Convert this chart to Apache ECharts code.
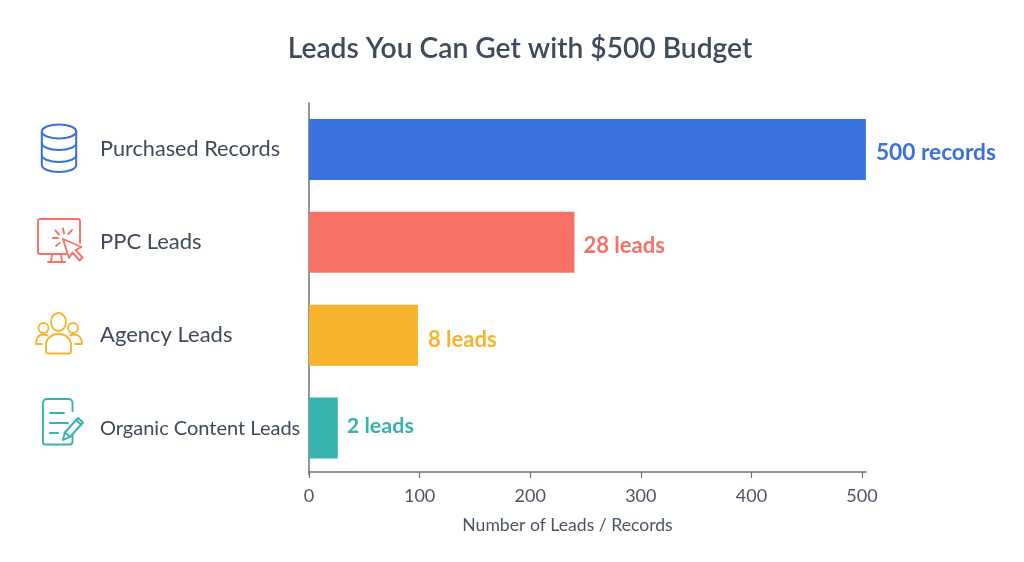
<!DOCTYPE html>
<html><head><meta charset="utf-8">
<style>html,body{margin:0;padding:0;background:#fff}#c{width:1024px;height:562px}</style>
<script src="https://cdn.jsdelivr.net/npm/echarts@6/dist/echarts.min.js"></script>
</head><body><div id="c"></div>
<script>
const categories = ["Purchased Records","PPC Leads","Agency Leads","Organic Content Leads"];
const barValues = [503.5,240,98.5,26];
const valueLabels = ["500 records","28 leads","8 leads","2 leads"];
const colors = ["#3b71dd","#f97066","#f7b32b","#38b2ac"];
const xTicks = [0,100,200,300,400,500];
const FONT = "Lato";
const categorySizes = [21.7,22,22,20];
const valueSizes = [22.7,22,22,21.5];
const categoryPads = [[4,0,0,0],[4,0,0,0],[4,0,0,0],[0,0,4,0]];
const valueNudges = [[1,3],[0,4],[1,5],[0,-2]];

function svg(w,h,color,sw,body){
  const s = `<svg xmlns="http://www.w3.org/2000/svg" width="${w}" height="${h}" viewBox="0 0 ${w} ${h}"><g fill="none" stroke="${color}" stroke-width="${sw}" stroke-linecap="round" stroke-linejoin="round">${body}</g></svg>`;
  return "data:image/svg+xml;charset=utf-8," + encodeURIComponent(s);
}
const icons = [
 {x:40,y:122,w:40,h:52,c:colors[0],sw:2,b:`<ellipse cx="19" cy="9.5" rx="17.2" ry="7"/><path d="M1.8 9.5V43c0 3.9 7.7 7 17.2 7s17.2-3.1 17.2-7V9.5"/><path d="M1.8 21c0 3.9 7.7 7 17.2 7s17.2-3.1 17.2-7"/><path d="M1.8 33c0 3.9 7.7 7 17.2 7s17.2-3.1 17.2-7"/>`},
 {x:36,y:217,w:50,h:48,c:colors[1],sw:1.9,b:`<path d="M44 26V4a2 2 0 0 0-2-2H4a2 2 0 0 0-2 2v31a2 2 0 0 0 2 2h26"/><path d="M16 37l-1 8M25 37l1 8M12 45h17"/><path d="M27 22l6 19 3.500-5.500 7 8 3-3-7-7.500 6-3z"/><path d="M27 11.500l1 5M19.500 13.500l3.500 4M36 13l-3.500 4M17 21h5M20 29l3.500-3"/>`},
 {x:33,y:311,w:52,h:44,c:colors[2],sw:1.8,b:`<ellipse cx="25.500" cy="11" rx="7.500" ry="9"/><circle cx="10.500" cy="17" r="5"/><circle cx="40" cy="17" r="5"/><path d="M13 41V34c0-6 5-11 12.500-11S38 28 38 34v7a1.500 1.500 0 0 1-1.500 1.500h-22A1.500 1.500 0 0 1 13 41z"/><path d="M9 33H3c0-6 2.500-9.500 7.500-9.500 1.500 0 2.700.3 3.700 1"/><path d="M42 33h7c0-6-3-9.500-8-9.500-1.500 0-2.700.3-3.700 1"/>`},
 {x:41,y:397,w:44,h:50,c:colors[3],sw:1.9,b:`<path d="M31.500 14V6a4 4 0 0 0-4-4H6a4 4 0 0 0-4 4v39a2.500 2.500 0 0 0 2.500 2.500h24a3 3 0 0 0 3-3V38"/><path d="M9 16h14M9 26h18M9 36h8"/><path d="M22 43l1.800-7.500L37 21l5 4.500L29 40z"/><path d="M23.800 35.500L29 40M35 23l5 4.500"/>`}
];

const chart = echarts.init(document.getElementById('c'),null,{renderer:'canvas'});
chart.setOption({
  animation:false,
  backgroundColor:'#fff',
  title:{text:"Leads You Can Get with $500 Budget",left:515,top:30,textAlign:'center',
    textStyle:{fontFamily:FONT,fontSize:28.200,fontWeight:600,color:'#3f4a5c'}},
  grid:{left:309,top:103,width:557,height:371.500,outerBoundsMode:'none'},
  xAxis:{type:'value',min:0,max:503.6,offset:-2.500,
    name:"Number of Leads / Records",nameLocation:'middle',nameGap:44,
    nameTextStyle:{fontFamily:FONT,fontSize:17.600,color:'#4b5563',padding:[0,40,0,0]},
    axisLine:{show:true,lineStyle:{color:'#6b7280',width:1.500}},
    axisTick:{show:true,length:6,lineStyle:{color:'#6b7280',width:1.200},customValues:xTicks},
    axisLabel:{fontFamily:FONT,fontSize:18,color:'#4b5563',margin:15,customValues:xTicks},
    splitLine:{show:false}},
  yAxis:{type:'category',inverse:true,
    data:categories.map((c,i)=>({value:c,textStyle:{fontSize:categorySizes[i],align:'left',padding:categoryPads[i]}})),
    axisLine:{show:true,lineStyle:{color:'#6b7280',width:1.500}},
    axisTick:{show:false},
    axisLabel:{fontFamily:FONT,fontSize:22,color:'#3f4a5c',align:'left',margin:209}},
  series:[{type:'bar',barWidth:61,
    data:barValues.map((v,i)=>({value:v,itemStyle:{color:colors[i]},
      label:{show:true,position:'right',distance:9,offset:valueNudges[i],formatter:valueLabels[i],
        fontFamily:FONT,fontSize:valueSizes[i],fontWeight:700,color:colors[i]}}))}],
  graphic:icons.map(k=>({type:'image',x:k.x,y:k.y,silent:true,
    style:{image:svg(k.w,k.h,k.c,k.sw,k.b),x:0,y:0,width:k.w,height:k.h}}))
});
</script></body></html>
